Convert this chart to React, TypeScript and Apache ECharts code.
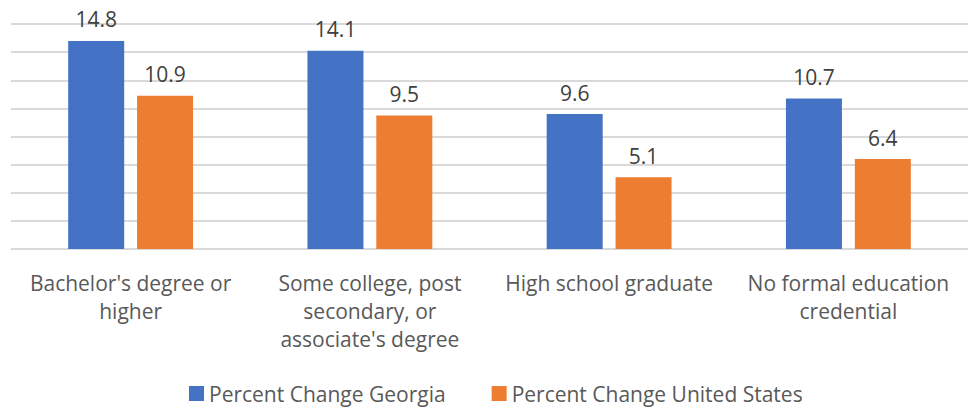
import React, { useEffect, useRef } from "react";
import * as echarts from "echarts";

const categories = [
  "Bachelor's degree or\nhigher",
  "Some college, post\nsecondary, or\nassociate's degree",
  "High school graduate",
  "No formal education\ncredential",
];
const georgia = [14.8, 14.1, 9.6, 10.7];
const unitedStates = [10.9, 9.5, 5.1, 6.4];
const seriesNames = ["Percent Change Georgia", "Percent Change United States"];

const FONT = "'Open Sans', Lato, sans-serif";

export default function App() {
  const ref = useRef<HTMLDivElement>(null);
  useEffect(() => {
    if (!ref.current) return;
    const chart = echarts.init(ref.current, undefined, { renderer: "svg" });
    const label = {
      show: true,
      position: "top",
      distance: 11,
      color: "#404040",
      fontSize: 21,
      fontFamily: FONT,
      formatter: (p: any) => p.value.toFixed(1),
    };
    chart.setOption({
      animation: false,
      grid: { left: 11, right: -5, top: 24, bottom: 160, containLabel: false },
      legend: {
        bottom: 0,
        left: 184,
        itemWidth: 15,
        itemHeight: 15,
        itemGap: 46,
        icon: "rect",
        textStyle: { color: "#595959", fontSize: 21, fontFamily: FONT },
        data: seriesNames,
      },
      xAxis: {
        type: "category",
        data: categories,
        axisLine: { show: false },
        axisTick: { show: false },
        axisLabel: {
          color: "#595959",
          fontSize: 21,
          fontFamily: FONT,
          lineHeight: 28,
          margin: 20,
          interval: 0,
        },
      },
      yAxis: {
        type: "value",
        min: 0,
        max: 16,
        interval: 2,
        axisLabel: { show: false },
        axisLine: { show: false },
        axisTick: { show: false },
        splitLine: { lineStyle: { color: "#d9d9d9", width: 2 } },
      },
      series: [
        {
          name: seriesNames[0],
          type: "bar",
          data: georgia,
          barWidth: 56,
          barGap: "23%",
          itemStyle: { color: "#4472C4" },
          label,
        },
        {
          name: seriesNames[1],
          type: "bar",
          data: unitedStates,
          barWidth: 56,
          barGap: "23%",
          itemStyle: { color: "#ED7D31" },
          label,
        },
      ],
    });
    return () => chart.dispose();
  }, []);
  return <div ref={ref} style={{ width: 968, height: 409, position: "absolute", left: 0, top: 0 }} />;
}
